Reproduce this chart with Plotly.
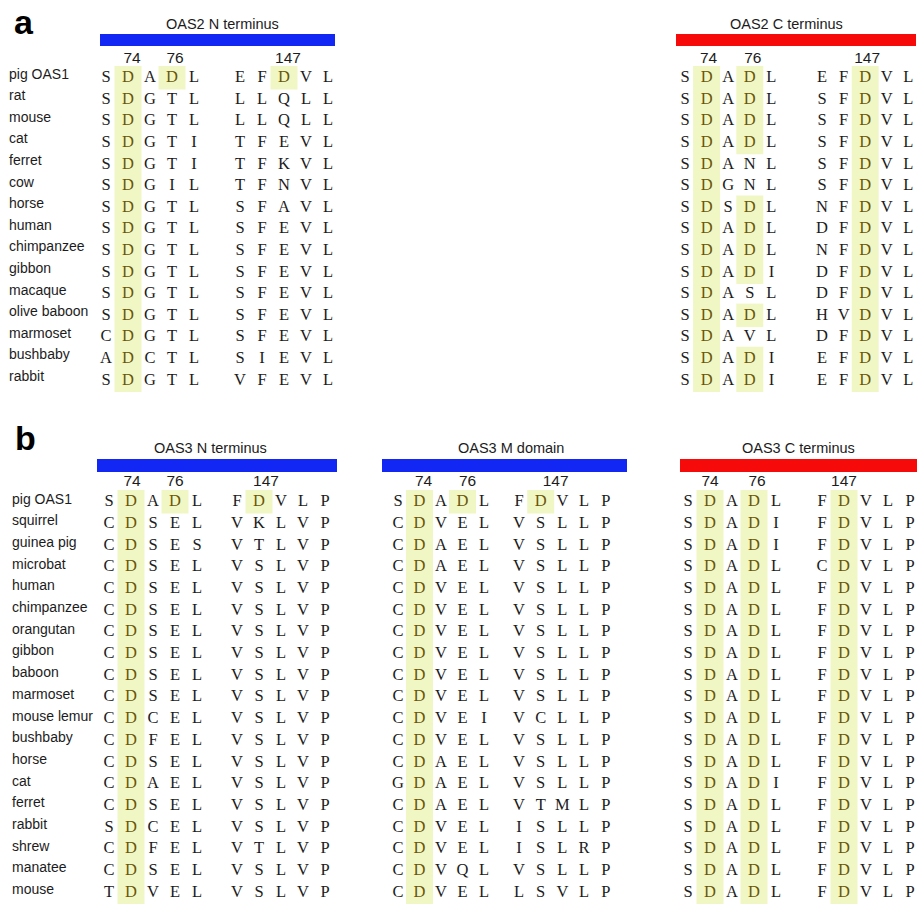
import plotly.graph_objects as go

W, H = 919, 905

# ---------------- data ----------------
site_labels = ["74", "76", "147"]

# panel a: OAS2 (two 5-residue windows per row)
species_a = ["pig OAS1", "rat", "mouse", "cat", "ferret", "cow", "horse", "human",
             "chimpanzee", "gibbon", "macaque", "olive baboon", "marmoset",
             "bushbaby", "rabbit"]
oas2_n = ["SDADL EFDVL", "SDGTL LLQLL", "SDGTL LLQLL", "SDGTI TFEVL", "SDGTI TFKVL",
          "SDGIL TFNVL", "SDGTL SFAVL", "SDGTL SFEVL", "SDGTL SFEVL", "SDGTL SFEVL",
          "SDGTL SFEVL", "SDGTL SFEVL", "CDGTL SFEVL", "ADCTL SIEVL", "SDGTL VFEVL"]
oas2_c = ["SDADL EFDVL", "SDADL SFDVL", "SDADL SFDVL", "SDADL SFDVL", "SDANL SFDVL",
          "SDGNL SFDVL", "SDSDL NFDVL", "SDADL DFDVL", "SDADL NFDVL", "SDADI DFDVL",
          "SDASL DFDVL", "SDADL HVDVL", "SDAVL DFDVL", "SDADI EFDVL", "SDADI EFDVL"]
sites_a = [1, 3, 7]          # residue index of sites 74, 76, 147

# panel b: OAS3
species_b = ["pig OAS1", "squirrel", "guinea pig", "microbat", "human", "chimpanzee",
             "orangutan", "gibbon", "baboon", "marmoset", "mouse lemur", "bushbaby",
             "horse", "cat", "ferret", "rabbit", "shrew", "manatee", "mouse"]
oas3_n = ["SDADL FDVLP", "CDSEL VKLVP", "CDSES VTLVP", "CDSEL VSLVP", "CDSEL VSLVP",
          "CDSEL VSLVP", "CDSEL VSLVP", "CDSEL VSLVP", "CDSEL VSLVP", "CDSEL VSLVP",
          "CDCEL VSLVP", "CDFEL VSLVP", "CDSEL VSLVP", "CDAEL VSLVP", "CDSEL VSLVP",
          "SDCEL VSLVP", "CDFEL VTLVP", "CDSEL VSLVP", "TDVEL VSLVP"]
oas3_m = ["SDADL FDVLP", "CDVEL VSLLP", "CDAEL VSLLP", "CDAEL VSLLP", "CDVEL VSLLP",
          "CDVEL VSLLP", "CDVEL VSLLP", "CDVEL VSLLP", "CDVEL VSLLP", "CDVEL VSLLP",
          "CDVEI VCLLP", "CDVEL VSLLP", "CDAEL VSLLP", "GDAEL VSLLP", "CDAEL VTMLP",
          "CDVEL ISLLP", "CDVEL ISLRP", "CDVQL VSLLP", "CDVEL LSVLP"]
oas3_c = ["SDADL FDVLP", "SDADI FDVLP", "SDADI FDVLP", "SDADL CDVLP", "SDADL FDVLP",
          "SDADL FDVLP", "SDADL FDVLP", "SDADL FDVLP", "SDADL FDVLP", "SDADL FDVLP",
          "SDADL FDVLP", "SDADL FDVLP", "SDADL FDVLP", "SDADI FDVLP", "SDADL FDVLP",
          "SDADL FDVLP", "SDADL FDVLP", "SDADL FDVLP", "SDADL FDVLP"]
sites_b = [1, 3, 6]

# ---------------- layout of the blocks (pixel space) ----------------
BLUE, RED = "#1226f4", "#f70a0a"
HILITE = "#f1f7c4"
D_COLOR = "#6a5608"
INK = "#1c1c1c"
SERIF = "Liberation Serif, Times New Roman, serif"
SANS = "Liberation Sans, Arial, sans-serif"

panels = [
    dict(species=species_a, label_x=9, label_dy=-3, y0=78, dy=21.6, num_y=59,
         title_y=24, bar_y=(34, 46), letter="a", letter_xy=(12, 22),
         blocks=[
             dict(seqs=oas2_n, sites=sites_a, title="OAS2 N terminus", color=BLUE,
                  x1=106, step=22, x2=240, step2=22, bar_x=(100, 335), title_x=222,
                  site_dx=[4, 3, 4]),
             dict(seqs=oas2_c, sites=sites_a, title="OAS2 C terminus", color=RED,
                  x1=685, step=21.6, x2=822, step2=21.6, bar_x=(676, 916), title_x=786,
                  site_dx=[2, 3, 2]),
         ]),
    dict(species=species_b, label_x=12, label_dy=-2, y0=502, dy=21.7, num_y=482,
         title_y=448, bar_y=(459, 472), letter="b", letter_xy=(13, 438),
         blocks=[
             dict(seqs=oas3_n, sites=sites_b, title="OAS3 N terminus", color=BLUE,
                  x1=109, step=22, x2=237, step2=22, bar_x=(97, 337), title_x=210,
                  site_dx=[1, 0, 7]),
             dict(seqs=oas3_m, sites=sites_b, title="OAS3 M domain", color=BLUE,
                  x1=398, step=21.5, x2=519, step2=21.7, bar_x=(382, 627), title_x=511,
                  site_dx=[4, 5, 15]),
             dict(seqs=oas3_c, sites=sites_b, title="OAS3 C terminus", color=RED,
                  x1=688, step=22, x2=822, step2=22, bar_x=(680, 917), title_x=798,
                  site_dx=[0, 3, 0]),
         ]),
]

fig = go.Figure()
shapes = []
annotations = []


def col_x(blk, j):
    if j < 5:
        return blk["x1"] + j * blk["step"]
    return blk["x2"] + (j - 5) * blk["step2"]


for p in panels:
    row_y = [p["y0"] + i * p["dy"] for i in range(len(p["species"]))]

    # species names
    fig.add_trace(go.Scatter(
        x=[p["label_x"]] * len(p["species"]), y=[y + p["label_dy"] for y in row_y],
        text=p["species"], mode="text", textposition="middle right",
        textfont=dict(family=SANS, size=14, color=INK), hoverinfo="skip",
        showlegend=False))

    # panel letter
    annotations.append(dict(
        x=p["letter_xy"][0], y=p["letter_xy"][1], xref="x", yref="y",
        text="<b>%s</b>" % p["letter"], showarrow=False, xanchor="left",
        yanchor="middle", font=dict(family=SANS, size=34, color="black")))

    for blk in p["blocks"]:
        residues = [s.replace(" ", "") for s in blk["seqs"]]

        # domain bar + title
        shapes.append(dict(type="rect", xref="x", yref="y",
                           x0=blk["bar_x"][0], x1=blk["bar_x"][1],
                           y0=p["bar_y"][0], y1=p["bar_y"][1],
                           fillcolor=blk["color"], line=dict(width=0)))
        annotations.append(dict(
            x=blk["title_x"], y=p["title_y"], xref="x", yref="y", text=blk["title"],
            showarrow=False, xanchor="center", yanchor="middle",
            font=dict(family=SANS, size=14.5, color=INK)))

        # site numbers
        fig.add_trace(go.Scatter(
            x=[col_x(blk, j) + d for j, d in zip(blk["sites"], blk["site_dx"])],
            y=[p["num_y"]] * len(site_labels), text=site_labels, mode="text",
            textposition="middle center",
            textfont=dict(family=SANS, size=15.5, color=INK),
            hoverinfo="skip", showlegend=False))

        # highlighted D runs at the catalytic sites
        for j in blk["sites"]:
            cx = col_x(blk, j)
            i = 0
            while i < len(residues):
                if residues[i][j] == "D":
                    k = i
                    while k + 1 < len(residues) and residues[k + 1][j] == "D":
                        k += 1
                    shapes.append(dict(type="rect", xref="x", yref="y", layer="below",
                                       x0=cx - 13.5, x1=cx + 13.5,
                                       y0=row_y[i] - 12, y1=row_y[k] + 11.5,
                                       fillcolor=HILITE, line=dict(width=0)))
                    i = k + 1
                else:
                    i += 1

        # residues
        xs, ys, txt, cols = [], [], [], []
        for i, seq in enumerate(residues):
            for j, aa in enumerate(seq):
                xs.append(col_x(blk, j))
                ys.append(row_y[i])
                txt.append(aa)
                cols.append(D_COLOR if (j in blk["sites"] and aa == "D") else INK)
        fig.add_trace(go.Scatter(
            x=xs, y=ys, text=txt, mode="text", textposition="middle center",
            textfont=dict(family=SERIF, size=16.5, color=cols),
            hoverinfo="skip", showlegend=False))

fig.update_layout(
    width=W, height=H, margin=dict(l=0, r=0, t=0, b=0),
    paper_bgcolor="white", plot_bgcolor="white",
    xaxis=dict(range=[0, W], visible=False, fixedrange=True),
    yaxis=dict(range=[H, 0], visible=False, fixedrange=True),
    shapes=shapes, annotations=annotations, showlegend=False)

fig.write_html("out.html", config={"displayModeBar": False})
